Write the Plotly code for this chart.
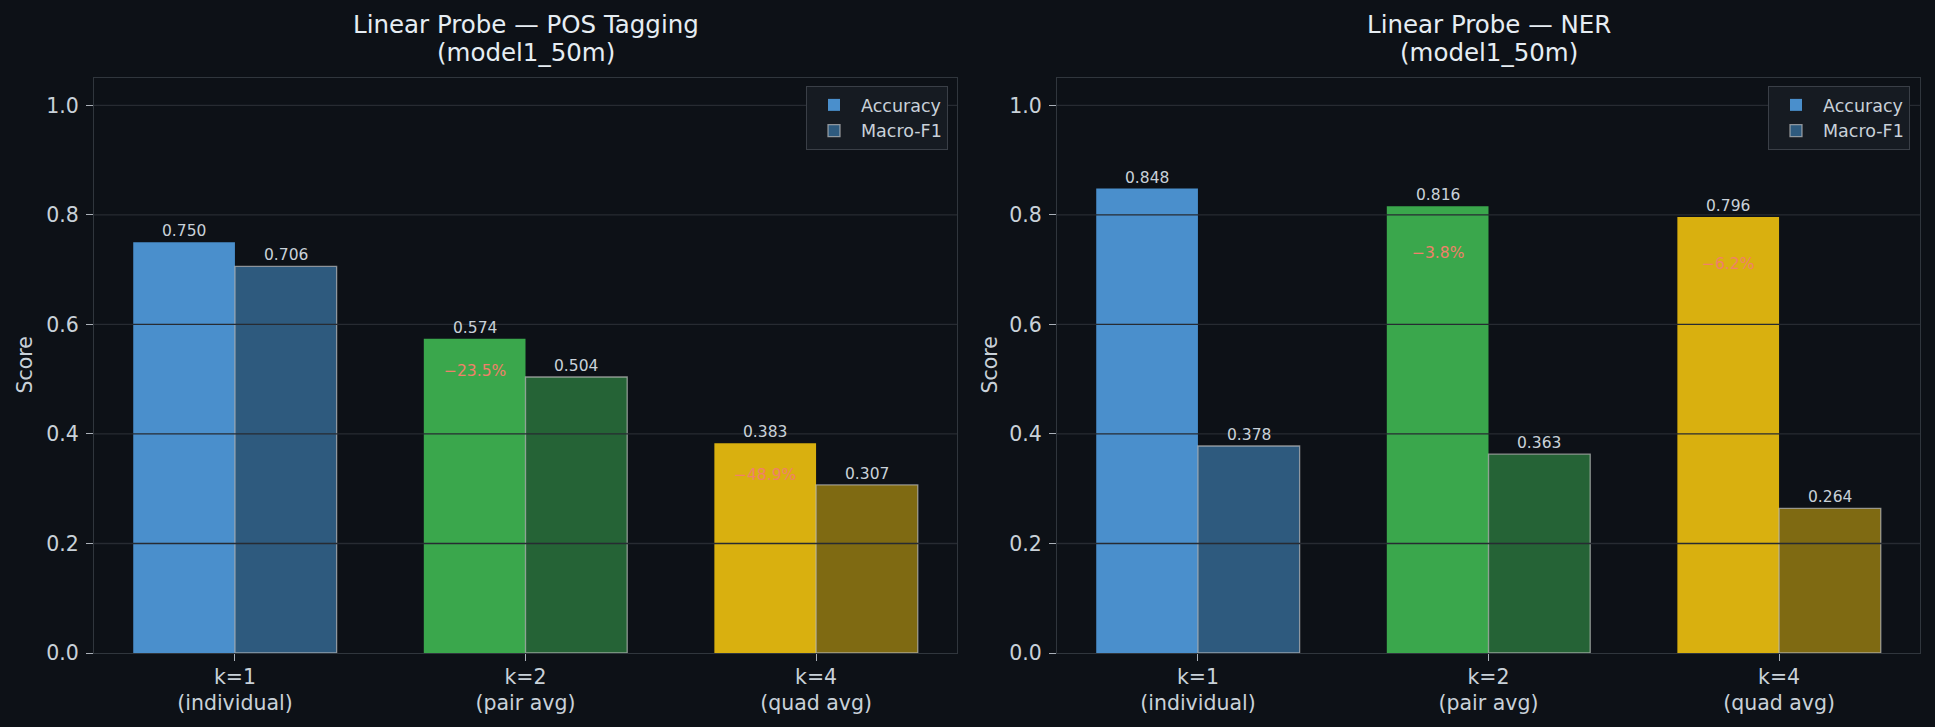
import plotly.graph_objects as go

# ---------------- data ----------------
categories = ["k=1<br>(individual)", "k=2<br>(pair avg)", "k=4<br>(quad avg)"]
series_names = ["Accuracy", "Macro-F1"]

pos_accuracy = [0.750, 0.574, 0.383]
pos_macro_f1 = [0.706, 0.504, 0.307]
pos_drop_labels = ["−23.5%", "−48.9%"]   # drop of k=2, k=4 vs k=1 (accuracy)

ner_accuracy = [0.848, 0.816, 0.796]
ner_macro_f1 = [0.378, 0.363, 0.264]
ner_drop_labels = ["−3.8%", "−6.2%"]

panel_titles = [["Linear Probe — POS Tagging", "(model1_50m)"],
                ["Linear Probe — NER", "(model1_50m)"]]
y_ticks = [0.0, 0.2, 0.4, 0.6, 0.8, 1.0]

# ---------------- style ----------------
BG = "#0d1117"
SPINE = "#30363d"
GRID = "#272b32"
TEXT = "#c9d1d9"
TITLE = "#e6edf3"
DROP = "#f0806a"
FONT = "DejaVu Sans"
acc_colors = ["#4a8fcc", "#3aa74c", "#d9b00f"]
f1_colors = ["#2e5a7e", "#256336", "#7f6a12"]
BAR_W = 0.35

W, H = 1935, 727
panels = [
    dict(acc=pos_accuracy, f1=pos_macro_f1, drops=pos_drop_labels, title=panel_titles[0],
         dom=[94 / W, 957 / W], legend="legend", drop_shift=-32, ytitle_x=25 / W),
    dict(acc=ner_accuracy, f1=ner_macro_f1, drops=ner_drop_labels, title=panel_titles[1],
         dom=[1057 / W, 1920 / W], legend="legend2", drop_shift=-47, ytitle_x=990 / W),
]
y_dom = [1 - 653 / H, 1 - 78 / H]
title_line_y = [25, 53]   # pixel centres of the two title lines

fig = go.Figure()
annotations = []
shapes = []
xs = list(range(len(categories)))

for p_i, p in enumerate(panels):
    sfx = "" if p_i == 0 else str(p_i + 1)
    xref, yref = "x" + sfx, "y" + sfx
    fig.add_trace(go.Bar(
        x=xs, y=p["acc"], width=BAR_W, offset=-BAR_W, name=series_names[0],
        marker=dict(color=acc_colors, line=dict(width=0)),
        xaxis=xref, yaxis=yref, legend=p["legend"], hoverinfo="skip"))
    fig.add_trace(go.Bar(
        x=xs, y=p["f1"], width=BAR_W, offset=0, name=series_names[1],
        marker=dict(color=f1_colors, line=dict(width=1.3, color="rgba(190,190,190,0.7)")),
        xaxis=xref, yaxis=yref, legend=p["legend"], hoverinfo="skip"))

    # value labels
    for i in xs:
        for val, dx in ((p["acc"][i], -BAR_W / 2), (p["f1"][i], BAR_W / 2)):
            annotations.append(dict(
                x=i + dx, y=val, xref=xref, yref=yref, text=f"{val:.3f}",
                showarrow=False, yanchor="bottom", yshift=0,
                font=dict(family=FONT, size=15.5, color=TEXT)))
    # drop labels
    for j, lab in enumerate(p["drops"]):
        i = j + 1
        annotations.append(dict(
            x=i - BAR_W / 2, y=p["acc"][i], xref=xref, yref=yref, text=lab,
            showarrow=False, yanchor="middle", yshift=p["drop_shift"],
            font=dict(family=FONT, size=15.5, color=DROP)))

    # grid drawn above bars
    for yt in y_ticks[1:]:
        shapes.append(dict(type="line", xref=xref + " domain", yref=yref,
                           x0=0, x1=1, y0=yt, y1=yt, layer="above",
                           line=dict(color=GRID, width=1.3)))

    # title (two lines)
    for line_txt, ly in zip(p["title"], title_line_y):
        annotations.append(dict(
            x=(p["dom"][0] + p["dom"][1]) / 2, y=1 - ly / H, xref="paper", yref="paper",
            text=line_txt, showarrow=False, xanchor="center", yanchor="middle",
            font=dict(family=FONT, size=24.5, color=TITLE)))
    # y-axis title
    annotations.append(dict(
        x=p["ytitle_x"], y=(y_dom[0] + y_dom[1]) / 2, xref="paper", yref="paper",
        text="Score", textangle=-90, showarrow=False, xanchor="center", yanchor="middle",
        font=dict(family=FONT, size=20.5, color=TEXT)))

    axis_common = dict(showline=True, mirror=True, linecolor=SPINE, linewidth=1.3,
                       ticks="outside", ticklen=7, tickwidth=1.3, tickcolor="#aab0b8",
                       tickfont=dict(family=FONT, size=20.5, color=TEXT), zeroline=False,
                       automargin=False)
    fig.update_layout(**{
        "xaxis" + sfx: dict(domain=p["dom"], anchor=yref, range=[-0.485, 2.485],
                            tickvals=xs, ticktext=categories, showgrid=False,
                            ticklabelstandoff=-2, **axis_common),
        "yaxis" + sfx: dict(domain=y_dom, anchor=xref, range=[0, 1.05], tickvals=y_ticks,
                            tickformat=".1f", showgrid=False, ticklabelstandoff=3,
                            **axis_common),
    })

legend_common = dict(bgcolor="#161b22", bordercolor="#3a3f47", borderwidth=1,
                     font=dict(family=FONT, size=17.5, color=TEXT), itemwidth=44,
                     xanchor="right", yanchor="top", y=1 - 86 / H, tracegroupgap=4)
fig.update_layout(
    width=W, height=H, margin=dict(l=0, r=0, t=0, b=0, autoexpand=False),
    paper_bgcolor=BG, plot_bgcolor=BG, barmode="overlay",
    font=dict(family=FONT, color=TEXT),
    annotations=annotations, shapes=shapes,
    legend=dict(x=948 / W, **legend_common),
    legend2=dict(x=1910 / W, **legend_common),
)

fig.write_html("out.html")
